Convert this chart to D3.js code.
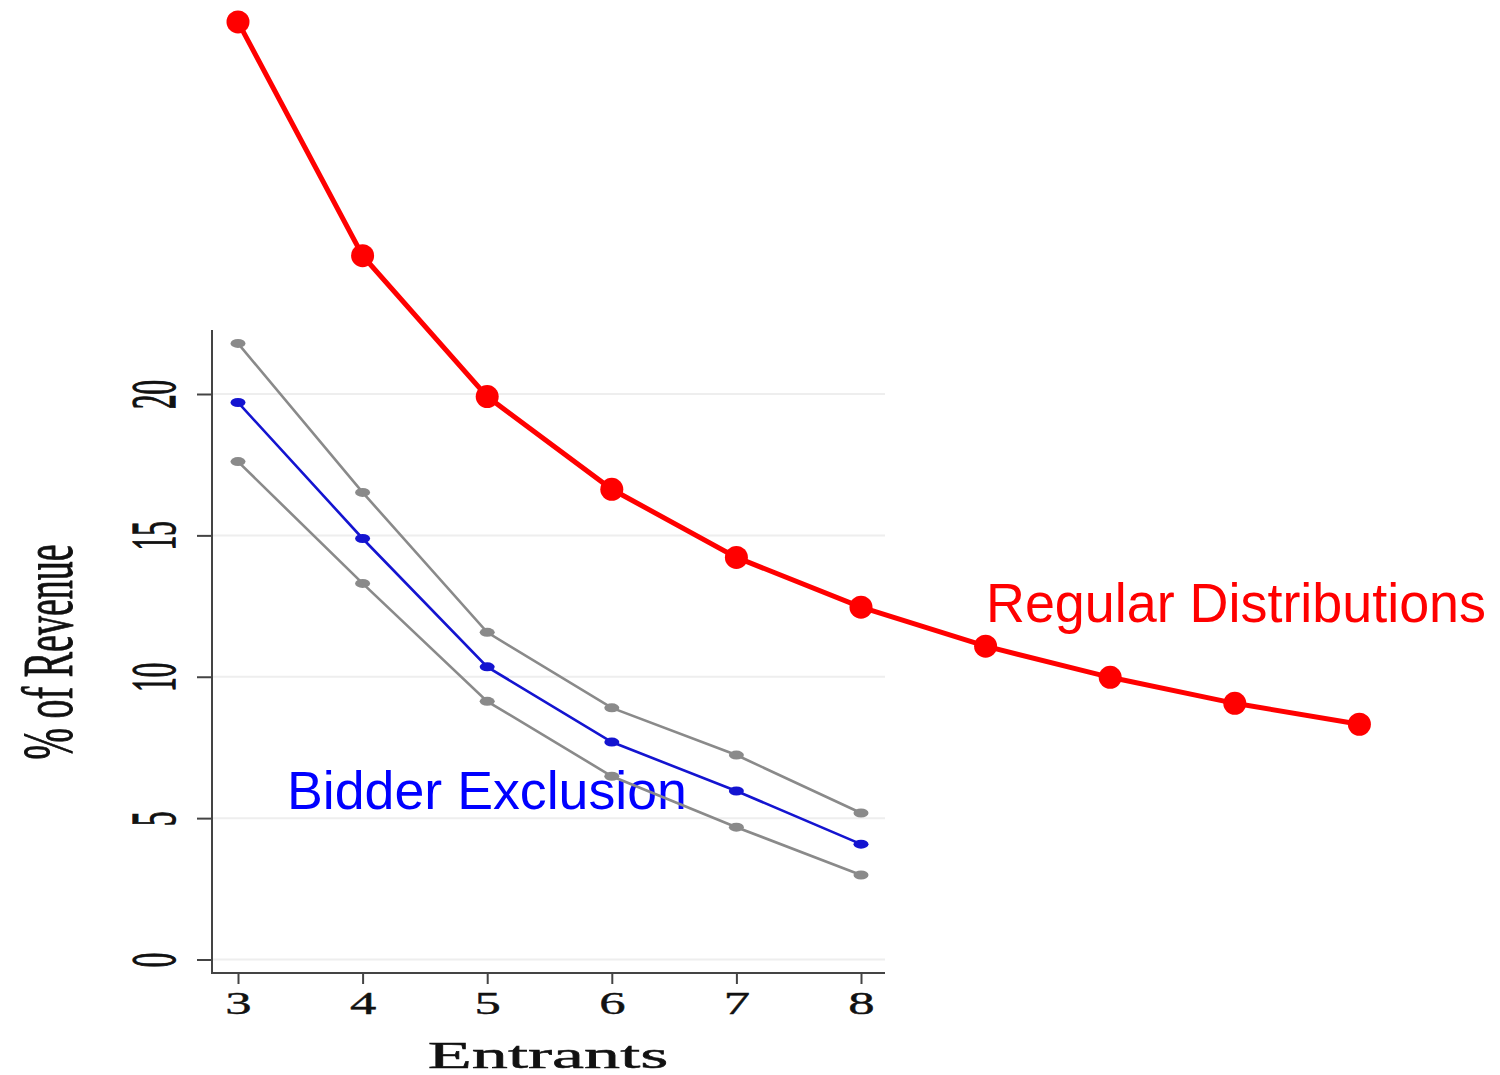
<!DOCTYPE html>
<html>
<head>
<meta charset="utf-8">
<script src="https://cdnjs.cloudflare.com/ajax/libs/d3/7.8.5/d3.min.js"></script>
<style>
  html, body { margin: 0; padding: 0; background: #fff; }
  svg { display: block; }
</style>
</head>
<body>
<svg width="1500" height="1075"></svg>
<script>
// entrants on the x axis
var entrants = [3, 4, 5, 6, 7, 8];
var entrantsLong = [3, 4, 5, 6, 7, 8, 9, 10, 11, 12];

// % of revenue
var regular = [33.16, 24.89, 19.91, 16.63, 14.22, 12.46, 11.08, 9.98, 9.06, 8.32];
var exclusion = [19.70, 14.89, 10.35, 7.69, 5.96, 4.08];
var exclusionHigh = [21.79, 16.52, 11.57, 8.90, 7.23, 5.18];
var exclusionLow = [17.61, 13.30, 9.13, 6.48, 4.68, 2.99];

var yTicks = [0, 5, 10, 15, 20];

var svg = d3.select("svg"),
  plotLeft = 212, plotRight = 885, plotTop = 330, plotBottom = 973;

var x = d3.scaleLinear().domain([3, 8]).range([238, 861]);
var y = d3.scaleLinear().domain([0, 20]).range([959.5, 394]);

// grid
svg.append("g")
  .selectAll("line")
  .data(yTicks)
  .enter().append("line")
  .attr("x1", plotLeft).attr("x2", plotRight)
  .attr("y1", function (d) { return y(d); })
  .attr("y2", function (d) { return y(d); })
  .attr("stroke", "#eeeeee")
  .attr("stroke-width", 2);

// axes
var serif = "'Liberation Serif', 'DejaVu Serif', serif";

var gx = svg.append("g")
  .attr("transform", "translate(0," + plotBottom + ")")
  .call(d3.axisBottom(x).tickValues(entrants).tickFormat(d3.format("d"))
    .tickSize(11).tickSizeOuter(0).tickPadding(8));
gx.select(".domain").remove();
gx.selectAll(".tick line").attr("stroke", "#444").attr("stroke-width", 2);
gx.selectAll(".tick text")
  .attr("font-family", serif)
  .attr("font-size", 31)
  .attr("fill", "#111")
  .attr("stroke", "#111")
  .attr("stroke-width", 0.4)
  .attr("y", 19)
  .attr("transform", "scale(1.7,1)");

var gy = svg.append("g")
  .attr("transform", "translate(" + plotLeft + ",0)")
  .call(d3.axisLeft(y).tickValues(yTicks).tickSize(15).tickSizeOuter(0));
gy.select(".domain").remove();
gy.selectAll(".tick line").attr("stroke", "#444").attr("stroke-width", 2);
gy.selectAll(".tick text")
  .attr("font-family", serif)
  .attr("font-size", 29)
  .attr("fill", "#111")
  .attr("stroke", "#111")
  .attr("stroke-width", 0.6)
  .attr("x", null)
  .attr("dy", null)
  .attr("text-anchor", "middle")
  .attr("transform", "translate(-37,0) rotate(-90) scale(1,2.2)");

svg.append("line")
  .attr("x1", plotLeft).attr("x2", plotLeft)
  .attr("y1", plotTop).attr("y2", plotBottom + 1)
  .attr("stroke", "#444").attr("stroke-width", 2);
svg.append("line")
  .attr("x1", plotLeft - 1).attr("x2", plotRight)
  .attr("y1", plotBottom).attr("y2", plotBottom)
  .attr("stroke", "#444").attr("stroke-width", 2);

// axis titles
svg.append("text")
  .attr("font-family", serif)
  .attr("font-size", 38)
  .attr("fill", "#111")
  .attr("stroke", "#111")
  .attr("stroke-width", 0.5)
  .attr("text-anchor", "middle")
  .attr("transform", "translate(72,652) rotate(-90) scale(1,1.9)")
  .text("% of Revenue");

svg.append("text")
  .attr("font-family", serif)
  .attr("font-size", 38)
  .attr("fill", "#111")
  .attr("stroke", "#111")
  .attr("stroke-width", 0.5)
  .attr("text-anchor", "middle")
  .attr("transform", "translate(548,1068) scale(1.9,1)")
  .text("Entrants");

// series labels
var sans = "'Liberation Sans', Arial, sans-serif";
svg.append("text")
  .attr("x", 287).attr("y", 809)
  .attr("font-family", sans)
  .attr("font-size", 54)
  .attr("fill", "#0000ff")
  .attr("textLength", 400)
  .attr("lengthAdjust", "spacingAndGlyphs")
  .text("Bidder Exclusion");

svg.append("text")
  .attr("x", 986).attr("y", 622)
  .attr("font-family", sans)
  .attr("font-size", 55)
  .attr("fill", "#ff0000")
  .attr("textLength", 500)
  .attr("lengthAdjust", "spacingAndGlyphs")
  .text("Regular Distributions");

// lines
var line = d3.line()
  .x(function (d) { return x(d[0]); })
  .y(function (d) { return y(d[1]); });

function drawSeries(xs, vals, color, width, rx, ry) {
  var pts = xs.map(function (v, i) { return [v, vals[i]]; });
  svg.append("path")
    .datum(pts)
    .attr("d", line)
    .attr("fill", "none")
    .attr("stroke", color)
    .attr("stroke-width", width);
  svg.append("g")
    .selectAll("ellipse")
    .data(pts)
    .enter().append("ellipse")
    .attr("cx", function (d) { return x(d[0]); })
    .attr("cy", function (d) { return y(d[1]); })
    .attr("rx", rx)
    .attr("ry", ry)
    .attr("fill", color);
}

drawSeries(entrants, exclusionHigh, "#8a8a8a", 2.6, 7.5, 4.5);
drawSeries(entrants, exclusionLow, "#8a8a8a", 2.6, 7.5, 4.5);
drawSeries(entrants, exclusion, "#1414d0", 2.6, 7.5, 4.5);
drawSeries(entrantsLong, regular, "#ff0000", 5, 11.5, 11.5);
</script>
</body>
</html>
